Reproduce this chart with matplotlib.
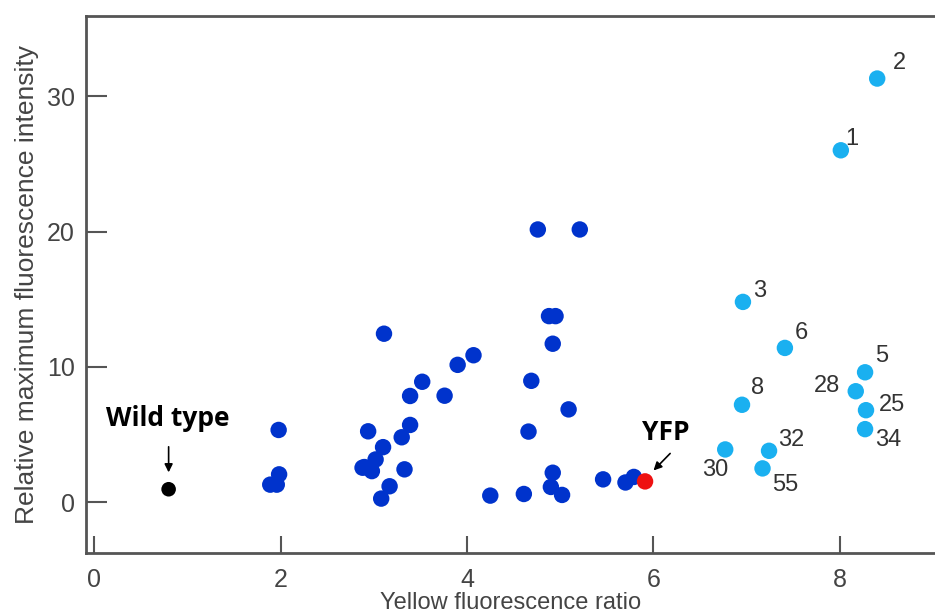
import matplotlib
matplotlib.use("Agg")
import matplotlib.pyplot as plt

plt.rcParams['font.family'] = ['Liberation Sans', 'DejaVu Sans']

# dark blue mutants
mut_x = [1.98, 1.985, 1.89, 1.96, 3.11, 4.07, 3.90, 3.52, 3.39, 3.76, 3.39, 3.30,
         2.94, 3.10, 3.02, 2.90, 2.98, 2.88, 3.33, 3.17, 3.08, 4.25, 4.61, 4.92,
         4.90, 5.02, 5.46, 5.70, 5.79, 4.66, 4.69, 5.09, 4.92, 4.88, 4.95, 4.76, 5.21]
mut_y = [5.34, 2.06, 1.30, 1.30, 12.45, 10.86, 10.15, 8.90, 7.85, 7.87, 5.71, 4.80,
         5.24, 4.07, 3.16, 2.60, 2.30, 2.55, 2.43, 1.18, 0.27, 0.49, 0.61, 2.18,
         1.13, 0.54, 1.69, 1.46, 1.87, 5.22, 8.97, 6.86, 11.71, 13.75, 13.75, 20.15, 20.15]

# light blue numbered mutants
sel_names = ['2', '1', '3', '6', '5', '28', '25', '34', '8', '30', '32', '55']
sel_x = [8.40, 8.01, 6.96, 7.41, 8.27, 8.17, 8.28, 8.27, 6.95, 6.77, 7.24, 7.17]
sel_y = [31.3, 26.0, 14.8, 11.4, 9.6, 8.2, 6.8, 5.4, 7.2, 3.9, 3.8, 2.5]
sel_off = [(16, 11), (8, 8), (12, 8), (12, 11), (12, 12), (-21, 4),
           (19, 4), (17, -8), (11, 12), (-7, -15), (16, 8), (16, -12)]

wt_x, wt_y = 0.80, 0.96
yfp_x, yfp_y = 5.91, 1.54

fig = plt.figure(figsize=(9.35, 6.12), dpi=100)
ax = fig.add_axes([0.092, 0.0964, 0.908, 0.877])

ax.scatter(mut_x, mut_y, s=140, color='#0033cc', edgecolors='none', zorder=3)
ax.scatter(sel_x, sel_y, s=140, color='#1ab0f0', edgecolors='none', zorder=3)
ax.scatter([wt_x], [wt_y], s=110, color='black', edgecolors='none', zorder=3)
ax.scatter([yfp_x], [yfp_y], s=140, color='#ee1111', edgecolors='none', zorder=4)

for n, x, y, off in zip(sel_names, sel_x, sel_y, sel_off):
    ax.annotate(n, (x, y), xytext=off, textcoords='offset points',
                ha='center', va='center', fontsize=17, color='#333333')

ax.text(0.79, 6.2, 'Wild type', ha='center', va='center', fontsize=19,
        fontweight='bold', family=['Open Sans', 'DejaVu Sans'])
ax.annotate('', xy=(0.80, 2.0), xytext=(0.80, 4.3),
            arrowprops=dict(arrowstyle='-|>', color='black', lw=1.2, mutation_scale=12))
ax.text(6.13, 5.15, 'YFP', ha='center', va='center', fontsize=19,
        fontweight='bold', family=['Open Sans', 'DejaVu Sans'])
ax.annotate('', xy=(5.98, 2.2), xytext=(6.20, 3.75),
            arrowprops=dict(arrowstyle='-|>', color='black', lw=1.2, mutation_scale=12))

ax.set_xlim(-0.086, 9.02)
ax.set_ylim(-3.75, 35.9)
ax.set_xticks([0, 2, 4, 6, 8])
ax.set_yticks([0, 10, 20, 30])
ax.tick_params(direction='in', length=12, width=1.5, color='#555555',
               labelsize=18, labelcolor='#444444', pad=8)
ax.tick_params(axis='x', pad=11)
ax.tick_params(axis='y', length=15)
for side in ['left', 'top', 'bottom']:
    ax.spines[side].set_color('#555555')
    ax.spines[side].set_linewidth(2)
ax.spines['right'].set_visible(False)

ax.set_xlabel('Yellow fluorescence ratio', fontsize=17, color='#444444', labelpad=0)
ax.set_ylabel('Relative maximum fluorescence intensity', fontsize=19, color='#444444', labelpad=6)

fig.savefig('out.png', dpi=100)
